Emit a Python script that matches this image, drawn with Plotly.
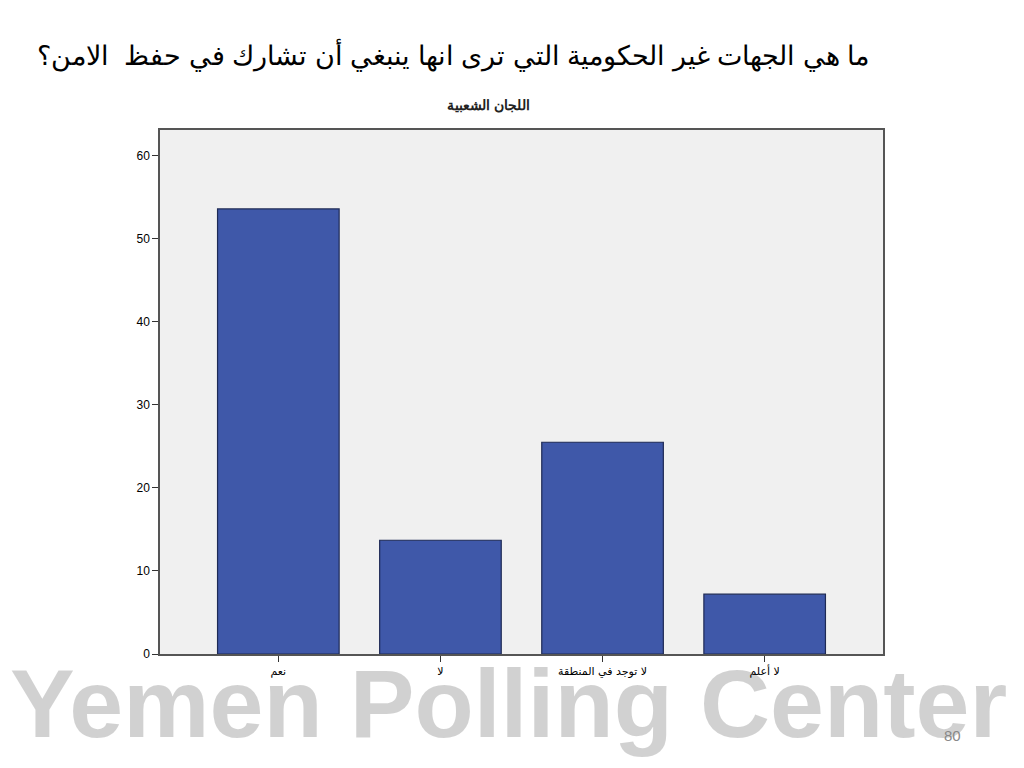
import plotly.graph_objects as go

categories = ["نعم", "لا", "لا توجد في المنطقة", "لا أعلم"]
values = [53.6, 13.7, 25.5, 7.2]
y_ticks = [0, 10, 20, 30, 40, 50, 60]

title_text = "ما هي الجهات غير الحكومية التي ترى انها ينبغي أن تشارك في حفظ  الامن؟"
subtitle_text = "اللجان الشعبية"
watermark_text = "Yemen Polling Center"
page_number = "80"

x_pos = list(range(len(categories)))

L, R, T, B = 160, 141, 130, 114
PW, PH = 1024 - L - R, 768 - T - B


def px(x):
    return (x - L) / PW


def py(y):
    return (768 - B - y) / PH


fig = go.Figure()
fig.add_trace(go.Bar(
    x=x_pos, y=values, width=0.75,
    marker=dict(color="#3F58A9", line=dict(color="#1E2A55", width=1.2)),
    hoverinfo="skip",
))

fig.update_layout(
    width=1024, height=768,
    margin=dict(l=L, r=R, t=T, b=B),
    paper_bgcolor="white",
    plot_bgcolor="#F0F0F0",
    showlegend=False,
    font=dict(family="Liberation Sans, Arial", color="black"),
    xaxis=dict(
        range=[-0.73, 3.73], tickvals=x_pos, ticktext=categories,
        ticks="outside", ticklen=6, tickcolor="#333", tickwidth=1,
        showgrid=False, zeroline=False,
        showline=True, linecolor="#555", linewidth=1.5, mirror=True,
        tickfont=dict(size=11, family="DejaVu Sans"),
        fixedrange=True,
    ),
    yaxis=dict(
        range=[0, 63.1], tickvals=y_ticks,
        ticks="outside", ticklen=6, tickcolor="#333", tickwidth=1,
        showgrid=False, zeroline=False,
        showline=True, linecolor="#555", linewidth=1.5, mirror=True,
        tickfont=dict(size=12, family="Liberation Sans"),
        fixedrange=True,
    ),
    annotations=[
        dict(text=title_text, xref="paper", yref="paper", x=px(871), y=py(55),
             xanchor="right", yanchor="middle", showarrow=False,
             font=dict(size=27, family="Liberation Sans, Arial", color="black")),
        dict(text="<b>" + subtitle_text + "</b>", xref="paper", yref="paper",
             x=px(488), y=py(105),
             xanchor="center", yanchor="middle", showarrow=False,
             font=dict(size=14, family="Liberation Sans, Arial", color="#222")),
        dict(text="<b>" + watermark_text + "</b>", xref="paper", yref="paper",
             x=px(508), y=py(703),
             xanchor="center", yanchor="middle", showarrow=False,
             font=dict(size=97, family="Liberation Sans, Arial", color="rgba(0,0,0,0.18)")),
        dict(text=page_number, xref="paper", yref="paper",
             x=px(952), y=py(735),
             xanchor="center", yanchor="middle", showarrow=False,
             font=dict(size=15, family="Liberation Sans, Arial", color="#888")),
    ],
)

fig.write_html("out.html", config={"displayModeBar": False},
               post_script="document.body.style.margin='0';")
